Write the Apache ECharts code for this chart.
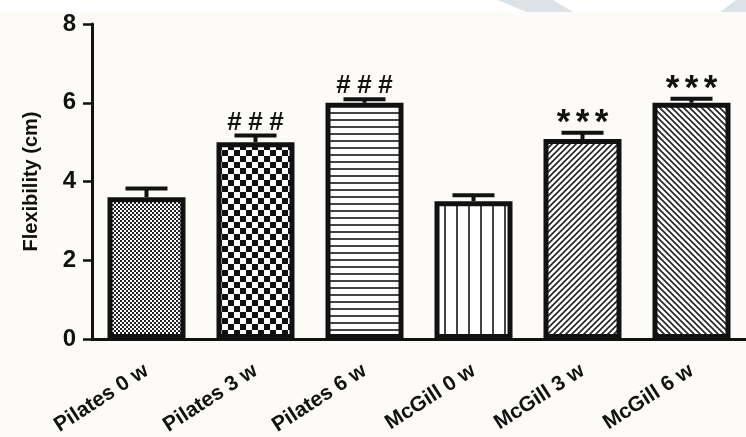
<!DOCTYPE html>
<html>
<head>
<meta charset="utf-8">
<script src="https://cdn.jsdelivr.net/npm/echarts@6/dist/echarts.min.js"></script>
<style>
  html, body { margin: 0; padding: 0; background: #fcfbf8; }
  #chart { width: 746px; height: 437px; }
</style>
</head>
<body>
<div id="chart"></div>
<script>
  // data
  var categories = ['Pilates 0 w', 'Pilates 3 w', 'Pilates 6 w', 'McGill 0 w', 'McGill 3 w', 'McGill 6 w'];
  var means = [3.6, 5.0, 6.0, 3.5, 5.08, 6.0];
  var errors = [0.22, 0.17, 0.09, 0.15, 0.16, 0.1];
  var marks = ['', '###', '###', '', '***', '***'];
  var yTicks = [0, 2, 4, 6, 8];

  // fill patterns, one per bar
  function tile(w, h, draw) {
    var c = document.createElement('canvas');
    c.width = w; c.height = h;
    var ctx = c.getContext('2d');
    ctx.fillStyle = '#fff';
    ctx.fillRect(0, 0, w, h);
    ctx.fillStyle = '#111';
    ctx.strokeStyle = '#222';
    draw(ctx);
    return { image: c, repeat: 'repeat' };
  }
  var patterns = [
    tile(4, 4, function (ctx) { ctx.fillStyle = '#222'; ctx.fillRect(0, 0, 2, 2); ctx.fillRect(2, 2, 2, 2); }),
    tile(12, 12, function (ctx) { ctx.fillRect(0, 0, 6, 6); ctx.fillRect(6, 6, 6, 6); }),
    tile(4, 7, function (ctx) { ctx.fillStyle = '#444'; ctx.fillRect(0, 0, 4, 2); }),
    tile(12, 4, function (ctx) { ctx.fillStyle = '#444'; ctx.fillRect(0, 0, 2, 4); }),
    tile(6, 6, function (ctx) {
      ctx.lineWidth = 1.6;
      ctx.beginPath();
      ctx.moveTo(-1, 7); ctx.lineTo(7, -1);
      ctx.moveTo(-1, 1); ctx.lineTo(1, -1);
      ctx.moveTo(5, 7); ctx.lineTo(7, 5);
      ctx.stroke();
    }),
    tile(6, 6, function (ctx) {
      ctx.lineWidth = 1.6;
      ctx.beginPath();
      ctx.moveTo(-1, -1); ctx.lineTo(7, 7);
      ctx.moveTo(5, -1); ctx.lineTo(7, 1);
      ctx.moveTo(-1, 5); ctx.lineTo(1, 7);
      ctx.stroke();
    })
  ];

  var barData = means.map(function (v, i) {
    return { value: v, itemStyle: { color: patterns[i] } };
  });
  var errData = means.map(function (v, i) { return [i, v, errors[i]]; });

  var font = 'Liberation Sans, Arial, sans-serif';
  var chart = echarts.init(document.getElementById('chart'));
  var option = {
    backgroundColor: '#fcfbf8',
    animation: false,
    graphic: [
      { type: 'rect', left: 0, top: 0, shape: { width: 746, height: 12 }, style: { fill: '#ffffff' }, z: -10 },
      { type: 'polygon', shape: { points: [[498, 0], [553, 0], [573, 12], [526, 12]] }, style: { fill: '#dce3e8' }, z: -9 },
      { type: 'polygon', shape: { points: [[736, 0], [746, 0], [746, 12], [720, 12]] }, style: { fill: '#dce3e8' }, z: -9 }
    ],
    grid: { left: 92, right: 0, top: 24, bottom: 98, outerBoundsMode: 'none' },
    xAxis: {
      type: 'category',
      data: categories,
      axisLine: { lineStyle: { color: '#111', width: 3 } },
      axisTick: { alignWithLabel: true, length: 8, lineStyle: { color: '#111', width: 2.5 } },
      axisLabel: {
        rotate: 33, margin: 30, color: '#111',
        fontFamily: font, fontWeight: 'bold', fontSize: 21
      }
    },
    yAxis: {
      type: 'value',
      min: yTicks[0], max: yTicks[yTicks.length - 1], interval: 2,
      name: 'Flexibility (cm)',
      nameLocation: 'middle',
      nameGap: 51,
      nameTextStyle: { color: '#111', fontFamily: font, fontWeight: 'bold', fontSize: 20 },
      axisLine: { show: true, lineStyle: { color: '#111', width: 3 } },
      axisTick: { show: true, length: 9, lineStyle: { color: '#111', width: 2.5 } },
      splitLine: { show: false },
      axisLabel: {
        margin: 16, color: '#111',
        fontFamily: font, fontWeight: 'bold', fontSize: 24
      }
    },
    series: [
      {
        type: 'bar',
        data: barData,
        barWidth: 78,
        itemStyle: { borderColor: '#111', borderWidth: 5 },
        z: 2
      },
      {
        type: 'custom',
        data: errData,
        z: 3,
        renderItem: function (params, api) {
          var i = api.value(0), v = api.value(1), e = api.value(2);
          var base = api.coord([i, v]);
          var top = api.coord([i, v + e]);
          var half = 21;
          var children = [
            { type: 'line', shape: { x1: base[0], y1: base[1], x2: top[0], y2: top[1] }, style: { stroke: '#111', lineWidth: 4 } },
            { type: 'line', shape: { x1: top[0] - half, y1: top[1], x2: top[0] + half, y2: top[1] }, style: { stroke: '#111', lineWidth: 4 } }
          ];
          var txt = marks[params.dataIndex];
          var isStar = txt.charAt(0) === '*';
          for (var k = 0; k < txt.length; k++) {
            children.push({
              type: 'text',
              x: top[0] + (k - (txt.length - 1) / 2) * (isStar ? 19 : 21),
              y: top[1] + (isStar ? 8 : 0),
              style: {
                text: txt.charAt(k),
                fill: '#111',
                font: 'bold ' + (isStar ? 35 : 26) + 'px ' + font,
                align: 'center',
                verticalAlign: 'bottom'
              }
            });
          }
          return { type: 'group', children: children };
        }
      }
    ]
  };
  chart.setOption(option);
</script>
</body>
</html>
